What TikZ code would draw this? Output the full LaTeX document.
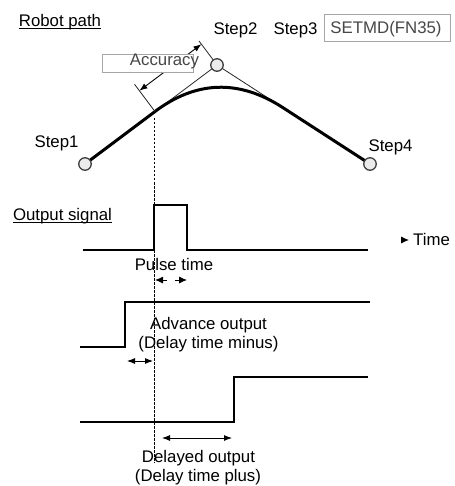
\documentclass[tikz,border=0pt]{standalone}
\usepackage{fontspec}
\setmainfont{Liberation Sans}
\usetikzlibrary{arrows.meta,calc}
\begin{document}
\begin{tikzpicture}[x=1pt,y=-1pt,
  lbl/.style={inner sep=0pt, anchor=base, font=\fontsize{16.8}{20}\selectfont},
  greylbl/.style={lbl, text=black!72},
  uline/.style={line width=1pt},
  thinline/.style={line width=0.8pt, black!85},
  pathline/.style={line width=3pt, black, line cap=round},
  sig/.style={line width=2pt, black},
  stepdot/.style={circle, draw=black!75, fill=black!8, line width=1.3pt, minimum size=12.5pt, inner sep=0pt},
  dim/.style={line width=0.9pt, {Latex[length=8pt,width=6pt]}-{Latex[length=8pt,width=6pt]}},
  tip/.style={line width=0.9pt, -{Latex[length=8pt,width=7pt]}},
  guide/.style={line width=0.9pt, black, dash pattern=on 2.5pt off 1.5pt},
  tagbox/.style={draw=black!35, fill=white, line width=0.8pt}]
\useasboundingbox (0,0) rectangle (454,486);

% ---------- robot path ----------
\node[lbl] (rp) at (60,26.5) {Robot path};
\draw[uline] ($(rp.base west)+(0,2.5)$) -- ($(rp.base east)+(0,2.5)$);

\coordinate (S1) at (85,164);
\coordinate (S2) at (217,65);
\coordinate (S4) at (370,164);
\coordinate (P) at ($(S2)!0.47!(S1)$);
\coordinate (Q) at ($(S2)!0.43!(S4)$);

% straight segments towards Step2
\draw[thinline] (S2) -- (P);
\draw[thinline] (S2) -- (Q);

% smoothed path
\draw[pathline] (S1) -- (P)
  .. controls ($(P)!2/3!(S2)$) and ($(Q)!2/3!(S2)$) .. (Q) -- (S4);

% accuracy dimension (perpendicular to Step1-Step2)
\coordinate (PE) at ($(P)+(-20.4,-27.2)$);
\coordinate (S2E) at ($(S2)+(-18,-24)$);
\coordinate (PD) at ($(P)+(-15.6,-20.8)$);
\coordinate (S2D) at ($(S2)+(-15.6,-20.8)$);
\draw[thinline] (P) -- (PE);
\draw[thinline] ($(S2)+(-3.6,-4.8)$) -- (S2E);
\draw[dim] (PD) -- (S2D);
\draw[tagbox] (102,54) rectangle (193,72);
\node[greylbl] (acc) at (164.5,66) {Accuracy};

% step points
\node[stepdot] (st1) at (S1) {};
\node[stepdot] (st2) at (S2) {};
\node[stepdot] (st4) at (S4) {};
\node[lbl] (l1) at (56.5,148) {Step1};
\node[lbl] (l2) at (235.5,35) {Step2};
\node[lbl] (l3) at (295.5,35) {Step3};
\node[lbl] (l4) at (390.5,152) {Step4};
\draw[tagbox] (324,14) rectangle (450,41);
\node[greylbl] (fn) at (386,34) {SETMD(FN35)};

% ---------- output signals ----------
\node[lbl] (os) at (62.5,220.5) {Output signal};
\draw[uline] ($(os.base west)+(0,2)$) -- ($(os.base east)+(0,2)$);

% pulse output
\coordinate (a0) at (83,250);
\coordinate (a1) at (154,250);
\coordinate (a2) at (154,205);
\coordinate (a3) at (187,205);
\coordinate (a4) at (187,250);
\coordinate (a5) at (368,250);
\draw[sig] (a0) -- (a1) -- (a2) -- (a3) -- (a4) -- (a5);

% time axis marker
\coordinate (t0) at (401,240);
\coordinate (t1) at (409,240);
\draw[tip] (t0) -- (t1);
\node[lbl] (time) at (431.5,245) {Time};

\node[lbl] (pt) at (174,270) {Pulse time};
\coordinate (p0) at (167,280);
\coordinate (p1) at (155,280);
\coordinate (p2) at (175,280);
\coordinate (p3) at (187,280);
\draw[tip] (p0) -- (p1);
\draw[tip] (p2) -- (p3);

% advance output
\coordinate (b0) at (80,347);
\coordinate (b1) at (125,347);
\coordinate (b2) at (125,302);
\coordinate (b3) at (370,302);
\draw[sig] (b0) -- (b1) -- (b2) -- (b3);
\node[lbl] (ao) at (208.5,329) {Advance output};
\node[lbl] (aom) at (208.5,348) {(Delay time minus)};
\coordinate (m0) at (127,361);
\coordinate (m1) at (153,361);
\draw[dim] (m0) -- (m1);

% delayed output
\coordinate (c0) at (80,422);
\coordinate (c1) at (234,422);
\coordinate (c2) at (234,377);
\coordinate (c3) at (368,377);
\draw[sig] (c0) -- (c1) -- (c2) -- (c3);
\coordinate (d0) at (162,438);
\coordinate (d1) at (232,438);
\draw[dim] (d0) -- (d1);
\node[lbl] (dl) at (198.5,462) {Delayed output};
\node[lbl] (dlp) at (198,481) {(Delay time plus)};

% timing reference line
\coordinate (g0) at (154,118);
\coordinate (g1) at (154,463);
\draw[guide] (g0) -- (g1);
\end{tikzpicture}
\end{document}
